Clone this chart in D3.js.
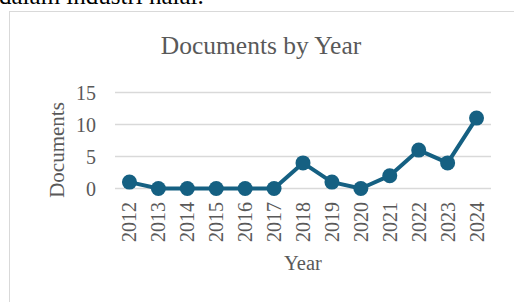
<!DOCTYPE html>
<html>
<head>
<meta charset="utf-8">
<script src="https://cdn.jsdelivr.net/npm/d3@7"></script>
<style>
  body { margin: 0; background: #fff; }
  svg { display: block; font-family: "Liberation Serif", "Times New Roman", serif; }
</style>
</head>
<body>
<div id="chart"></div>
<script>
var years = ["2012", "2013", "2014", "2015", "2016", "2017", "2018", "2019", "2020", "2021", "2022", "2023", "2024"];
var documents = [1, 0, 0, 0, 0, 0, 4, 1, 0, 2, 6, 4, 11];
var yTicks = [0, 5, 10, 15];

var w = 514,
    h = 302;
var svg = d3.select("#chart").append("svg").attr("width", w).attr("height", h);

// bit of the page text sitting above the chart
svg.append("text")
    .attr("x", -1)
    .attr("y", 4)
    .attr("font-size", 25)
    .attr("fill", "#000")
    .text("dalam industri halal.");

// chart frame (runs off the right and bottom edge)
svg.append("rect")
    .attr("x", 9.5)
    .attr("y", 11.5)
    .attr("width", 700)
    .attr("height", 400)
    .attr("fill", "#fff")
    .attr("stroke", "#d9d9d9")
    .attr("stroke-width", 1);

svg.append("text")
    .attr("x", 261)
    .attr("y", 54)
    .attr("text-anchor", "middle")
    .attr("font-size", 25.5)
    .attr("fill", "#595959")
    .text("Documents by Year");

var x = d3.scaleBand().domain(years).range([115, 491]);
var y = d3.scaleLinear().domain([0, 15]).range([188.5, 92.5]);

var grid = svg.append("g");
grid.selectAll("line")
    .data(yTicks)
    .enter()
    .append("line")
    .attr("x1", 115)
    .attr("x2", 491)
    .attr("y1", d => y(d))
    .attr("y2", d => y(d))
    .attr("stroke", "#d9d9d9")
    .attr("stroke-width", 1.5);

svg.append("g")
    .selectAll("text")
    .data(yTicks)
    .enter()
    .append("text")
    .attr("x", 96)
    .attr("y", d => y(d))
    .attr("dy", "0.35em")
    .attr("text-anchor", "end")
    .attr("font-size", 20)
    .attr("fill", "#595959")
    .text(d => d);

svg.append("g")
    .selectAll("text")
    .data(years)
    .enter()
    .append("text")
    .attr("transform", d => "translate(" + (x(d) + x.bandwidth() / 2) + ",202) rotate(-90)")
    .attr("dy", "0.35em")
    .attr("text-anchor", "end")
    .attr("font-size", 20)
    .attr("fill", "#595959")
    .text(d => d);

svg.append("text")
    .attr("transform", "translate(57,150) rotate(-90)")
    .attr("dy", "0.35em")
    .attr("text-anchor", "middle")
    .attr("font-size", 21)
    .attr("fill", "#595959")
    .text("Documents");

svg.append("text")
    .attr("x", 303)
    .attr("y", 270)
    .attr("text-anchor", "middle")
    .attr("font-size", 20.5)
    .attr("fill", "#595959")
    .text("Year");

var pts = years.map((d, i) => [x(d) + x.bandwidth() / 2, y(documents[i])]);

svg.append("path")
    .datum(pts)
    .attr("d", d3.line())
    .attr("fill", "none")
    .attr("stroke", "#156082")
    .attr("stroke-width", 4)
    .attr("stroke-linejoin", "round");

svg.append("g")
    .selectAll("circle")
    .data(pts)
    .enter()
    .append("circle")
    .attr("cx", d => d[0])
    .attr("cy", d => d[1])
    .attr("r", 7.5)
    .attr("fill", "#156082");
</script>
</body>
</html>
